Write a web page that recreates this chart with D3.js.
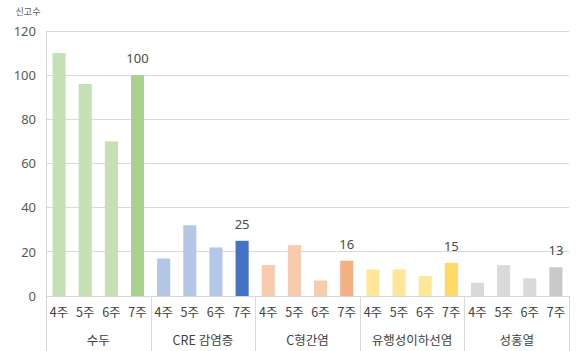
<!DOCTYPE html>
<html>
<head>
<meta charset="utf-8">
<script src="https://cdn.jsdelivr.net/npm/d3@7"></script>
<style>
  html, body { margin: 0; padding: 0; background: #fff; }
  svg { display: block; font-family: "Noto Sans CJK KR", "Noto Sans", sans-serif; }
</style>
</head>
<body>
<svg id="chart" width="579" height="351"></svg>
<script>
// Weekly reported cases per disease
const diseases = ["수두", "CRE 감염증", "C형간염", "유행성이하선염", "성홍열"];
const weeks = ["4주", "5주", "6주", "7주"];
const cases = [
  [110, 96, 70, 100],
  [17, 32, 22, 25],
  [14, 23, 7, 16],
  [12, 12, 9, 15],
  [6, 14, 8, 13]
];
const yTicks = [0, 20, 40, 60, 80, 100, 120];
const lightColors = ["#c5e0b4", "#b4c7e7", "#f8cbad", "#ffe699", "#d9d9d9"];
const darkColors  = ["#a9d18e", "#4472c4", "#f4b183", "#ffd966", "#c9c9c9"];

const svg = d3.select("#chart");
const W = 579, H = 351;
const m = { left: 46, right: 10, top: 31, bottom: 55 };
const plotBottom = H - m.bottom; // 296

const rows = [];
diseases.forEach((d, i) => weeks.forEach((w, j) => {
  rows.push({ key: i + "-" + j, disease: d, week: w, gi: i, wi: j, value: cases[i][j] });
}));

const x = d3.scaleBand().domain(rows.map(r => r.key))
  .range([m.left, W - m.right]).paddingInner(0.5).paddingOuter(0.25);
const step = x.step();
const y = d3.scaleLinear().domain([0, 120]).range([plotBottom, m.top]);

// horizontal gridlines
svg.append("g").selectAll("line").data(yTicks.filter(t => t > 0)).join("line")
  .attr("x1", m.left).attr("x2", W - m.right)
  .attr("y1", d => y(d)).attr("y2", d => y(d))
  .attr("stroke", "#d9d9d9").attr("stroke-width", 1).attr("shape-rendering", "crispEdges");

// y axis labels
const yAxis = d3.axisLeft(y).tickValues(yTicks).tickSize(0).tickPadding(10);
const ya = svg.append("g").attr("transform", `translate(${m.left},0)`).call(yAxis);
ya.select(".domain").remove();
ya.selectAll("text").attr("fill", "#595959").style("font-size", "13px")
  .style("font-family", "'Noto Sans', sans-serif");

// y axis title
svg.append("text").attr("x", 28).attr("y", 15).attr("text-anchor", "middle")
  .attr("fill", "#595959").style("font-size", "9px").text("신고수");

// bars
svg.append("g").selectAll("rect").data(rows).join("rect")
  .attr("x", d => x(d.key)).attr("width", x.bandwidth())
  .attr("y", d => y(d.value)).attr("height", d => plotBottom - y(d.value))
  .attr("fill", d => d.wi === 3 ? darkColors[d.gi] : lightColors[d.gi]);

// value labels on the latest week
svg.append("g").selectAll("text").data(rows.filter(r => r.wi === 3)).join("text")
  .attr("x", d => x(d.key) + x.bandwidth() / 2)
  .attr("y", d => y(d.value) - 12)
  .attr("text-anchor", "middle").attr("fill", "#4a4a4a")
  .style("font-size", "13px").style("font-family", "'Noto Sans', sans-serif")
  .text(d => d.value);

// baseline
svg.append("line").attr("x1", m.left).attr("x2", W - m.right)
  .attr("y1", plotBottom + 0.5).attr("y2", plotBottom + 0.5)
  .attr("stroke", "#d9d9d9");

// left axis line
svg.append("line").attr("x1", m.left + 0.5).attr("x2", m.left + 0.5)
  .attr("y1", m.top).attr("y2", H).attr("stroke", "#d9d9d9");

// category separators
const groupEdges = diseases.map((d, i) => m.left + (i + 1) * step * weeks.length);
svg.append("g").selectAll("line").data(groupEdges).join("line")
  .attr("x1", d => Math.round(d) + 0.5).attr("x2", d => Math.round(d) + 0.5)
  .attr("y1", plotBottom).attr("y2", H).attr("stroke", "#d9d9d9");

// week labels
svg.append("g").selectAll("text").data(rows).join("text")
  .attr("x", d => x(d.key) + x.bandwidth() / 2).attr("y", 317)
  .attr("text-anchor", "middle").attr("fill", "#404040")
  .style("font-size", "12.5px").text(d => d.week);

// disease labels
svg.append("g").selectAll("text").data(diseases).join("text")
  .attr("x", (d, i) => m.left + (i + 0.5) * step * weeks.length).attr("y", 345)
  .attr("text-anchor", "middle").attr("fill", "#404040")
  .style("font-size", "12.5px").text(d => d);
</script>
</body>
</html>
